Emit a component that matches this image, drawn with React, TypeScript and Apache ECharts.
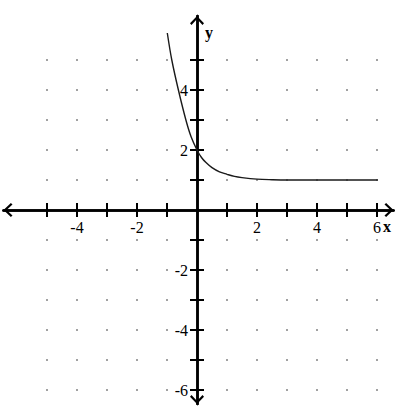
import { useEffect, useRef } from 'react'
import * as echarts from 'echarts'

// integer marks on each axis (origin left out)
const xTicks = [-5, -4, -3, -2, -1, 1, 2, 3, 4, 5, 6]
const yTicks = [-6, -5, -4, -3, -2, -1, 1, 2, 3, 4, 5]
const xLabels = [-4, -2, 2, 4, 6]
const yLabels = [-6, -4, -2, 2, 4]

// curve
const curveX = [-0.99, -0.84, -0.62, -0.37, -0.2, 0, 0.15, 0.3, 0.5, 0.75, 1, 1.25, 1.5, 2, 2.5, 3, 4, 5, 6.03]
const curveY = [5.9, 5.0, 4.0, 3.0, 2.45, 2.0, 1.75, 1.58, 1.41, 1.27, 1.19, 1.12, 1.08, 1.03, 1.01, 1.0, 1.0, 1.0, 1.0]

const FONT = '"Liberation Serif", "Times New Roman", serif'
const CHEVRON = 'path://M7,0 L14,7.4 L12.5,9 L7,3.1 L1.5,9 L0,7.4 Z'

// layout: 30px per unit, origin at (197, 210)
const UNIT = 30
const X_MIN = -6.45
const X_MAX = 6.55
const Y_MIN = -6.47
const Y_MAX = 6.47
const GRID_LEFT = 3.5
const GRID_TOP = 15.9
const GRID_W = (X_MAX - X_MIN) * UNIT
const GRID_H = (Y_MAX - Y_MIN) * UNIT
// offsets that pull each edge axis onto the origin lines
const LEFT_TO_ORIGIN = X_MIN * UNIT
const RIGHT_TO_ORIGIN = -X_MAX * UNIT
const TOP_TO_ORIGIN = -Y_MAX * UNIT
const BOTTOM_TO_ORIGIN = Y_MIN * UNIT

export default function App() {
  const ref = useRef<HTMLDivElement | null>(null)

  useEffect(() => {
    if (!ref.current) return
    const chart = echarts.init(ref.current, undefined, { renderer: 'svg' })

    const dots: number[][] = []
    xTicks.forEach((x) => yTicks.forEach((y) => dots.push([x, y])))

    const axisLine = (arrows: boolean) => ({
      onZero: false,
      lineStyle: { color: '#000', width: 2.5 },
      symbol: arrows ? [CHEVRON, CHEVRON] : 'none',
      symbolSize: [14, 9],
      symbolOffset: [4.5, -4.5]
    })
    const tick = (values: number[]) => ({
      customValues: values,
      length: 7,
      lineStyle: { color: '#000', width: 2 }
    })
    const label = (values: number[]) => ({
      customValues: values,
      margin: 9,
      color: '#000',
      fontFamily: FONT,
      fontSize: 16
    })

    chart.setOption({
      animation: false,
      grid: { left: GRID_LEFT, top: GRID_TOP, width: GRID_W, height: GRID_H, outerBoundsMode: 'none' },
      xAxis: [
        {
          type: 'value',
          min: X_MIN,
          max: X_MAX,
          position: 'bottom',
          offset: BOTTOM_TO_ORIGIN,
          axisLine: axisLine(true),
          axisTick: tick(xTicks),
          axisLabel: label(xLabels),
          splitLine: { show: false }
        },
        {
          type: 'value',
          min: X_MIN,
          max: X_MAX,
          position: 'top',
          offset: TOP_TO_ORIGIN,
          axisLine: axisLine(false),
          axisTick: tick(xTicks),
          axisLabel: { show: false },
          splitLine: { show: false }
        }
      ],
      yAxis: [
        {
          type: 'value',
          min: Y_MIN,
          max: Y_MAX,
          position: 'left',
          offset: LEFT_TO_ORIGIN,
          axisLine: axisLine(true),
          axisTick: tick(yTicks),
          axisLabel: label(yLabels),
          splitLine: { show: false }
        },
        {
          type: 'value',
          min: Y_MIN,
          max: Y_MAX,
          position: 'right',
          offset: RIGHT_TO_ORIGIN,
          axisLine: axisLine(false),
          axisTick: tick(yTicks),
          axisLabel: { show: false },
          splitLine: { show: false }
        }
      ],
      series: [
        {
          type: 'scatter',
          data: dots,
          symbol: 'rect',
          symbolSize: 2,
          itemStyle: { color: '#8a8a8a' },
          silent: true
        },
        {
          type: 'line',
          data: curveX.map((x, i) => [x, curveY[i]]),
          showSymbol: false,
          smooth: 0.35,
          lineStyle: { color: '#1a1a1a', width: 1.4 },
          z: 3
        }
      ],
      graphic: [
        {
          type: 'text',
          left: 205,
          top: 24,
          style: { text: 'y', font: `bold 16px ${FONT}`, fill: '#000' }
        },
        {
          type: 'text',
          left: 383,
          top: 218,
          style: { text: 'x', font: `bold 16px ${FONT}`, fill: '#000' }
        }
      ]
    })

    return () => {
      chart.dispose()
    }
  }, [])

  return <div ref={ref} style={{ position: 'absolute', left: 0, top: 0, width: 409, height: 411 }} />
}
